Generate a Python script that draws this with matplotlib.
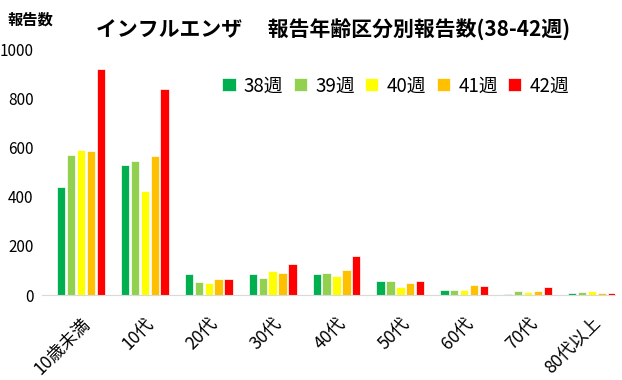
import numpy as np
import matplotlib.pyplot as plt

plt.rcParams['font.family'] = ['Noto Sans CJK JP', 'DejaVu Sans']

age_groups = ['10歳未満', '10代', '20代', '30代', '40代', '50代', '60代', '70代', '80代以上']
weeks = ['38週', '39週', '40週', '41週', '42週']
w38 = [438, 530, 87, 87, 87, 56, 22, 6, 7]
w39 = [571, 544, 54, 70, 89, 55, 22, 16, 14]
w40 = [591, 422, 50, 98, 79, 34, 20, 11, 16]
w41 = [586, 564, 65, 89, 102, 49, 42, 16, 8]
w42 = [920, 836, 65, 127, 157, 57, 38, 31, 9]
colors = ['#00B050', '#92D050', '#FFFF00', '#FFC000', '#FF0000']

fig = plt.figure(figsize=(6.22, 3.80), dpi=100)
ax = fig.add_axes([42 / 622, 85 / 380, 573 / 622, 246 / 380])

x = np.arange(len(age_groups))
bw = 0.13
for i, (vals, c, lab) in enumerate(zip([w38, w39, w40, w41, w42], colors, weeks)):
    ax.bar(x + (i - 2) * 0.155, vals, width=bw, color=c, label=lab,
           edgecolor='white', linewidth=0.5)

ax.set_xlim(-0.61, 8.36)
ax.set_ylim(0, 1000)
ax.set_yticks(range(0, 1001, 200))
ax.tick_params(axis='y', length=0, labelsize=11, pad=6)
ax.tick_params(axis='x', length=0, labelsize=12.5, pad=14)
ax.set_xticks(x)
ax.set_xticklabels(age_groups, rotation=45, ha='right', rotation_mode='anchor')
for s in ['top', 'right', 'left']:
    ax.spines[s].set_visible(False)
ax.spines['bottom'].set_color('#d9d9d9')

ax.legend(ncol=5, loc='center right', bbox_to_anchor=(0.95, 0.85), frameon=False,
          fontsize=13.5, handlelength=0.7, handleheight=0.7, handletextpad=0.45,
          columnspacing=0.55)

fig.text(8 / 622, 1 - 20 / 380, '報告数', fontsize=11, fontweight='bold', va='center')
fig.text(333 / 622, 1 - 30 / 380, 'インフルエンザ　 報告年齢区分別報告数(38-42週)',
         fontsize=15, fontweight='bold', ha='center', va='center')

fig.savefig('out.png', dpi=100)
